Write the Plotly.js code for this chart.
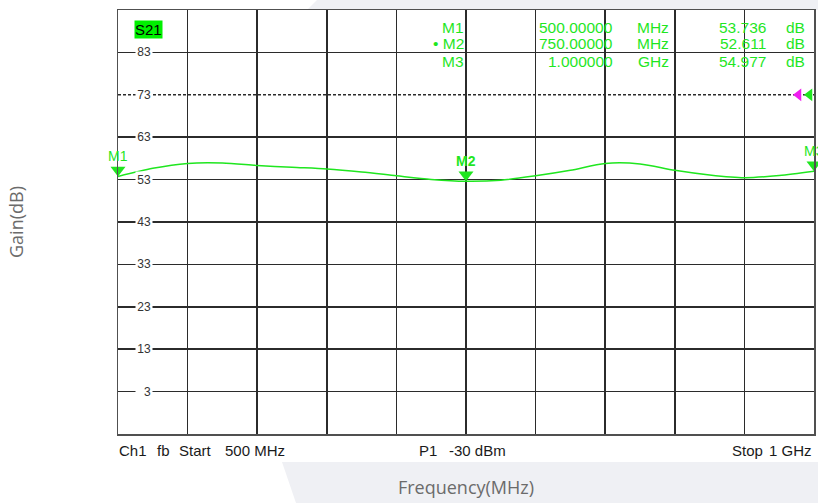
<!DOCTYPE html>
<html>
<head>
<meta charset="utf-8">
<script src="https://cdn.plot.ly/plotly-3.0.1.min.js"></script>
<style>html,body{margin:0;padding:0;background:#fff;}#chart{width:818px;height:503px;}</style>
</head>
<body>
<div id="chart"></div>
<script>
// ---- data ----
const freqMHz = [500, 525, 550, 575, 600, 625, 650, 675, 700, 725, 750, 775, 800, 825, 850, 875, 900, 925, 950, 975, 1000];
const gainDB  = [53.74, 55.65, 56.8, 56.9, 56.35, 55.9, 55.5, 54.8, 53.9, 53.05, 52.61, 52.86, 53.9, 55.2, 56.8, 56.7, 55.2, 54.1, 53.45, 53.95, 54.98];

const markerNames     = ['M1', 'M2', 'M3'];
const markerFreqMHz   = [500, 750, 1000];
const markerGainDB    = [53.736, 52.611, 54.977];
const markerFreqText  = ['500.00000', '750.00000', '1.000000'];
const markerFreqUnit  = ['MHz', 'MHz', 'GHz'];
const markerGainText  = ['53.736', '52.611', '54.977'];
const activeMarker    = 1;

const yTickVals  = [3, 13, 23, 33, 43, 53, 63, 73, 83];
const xGridVals  = [550, 600, 650, 700, 750, 800, 850, 900, 950];
const refLevelDB = 73;
const xStart = 500, xStop = 1000, yBottom = -7, yTop = 93;

const traceName   = 'S21';
const statusWords = ['Ch1', 'fb', 'Start', '500 MHz', 'P1', '-30 dBm', 'Stop', '1 GHz'];
const xTitle = 'Frequency(MHz)';
const yTitle = 'Gain(dB)';

// ---- styling ----
const W = 818, H = 503;
const M = {l: 118, r: 4, t: 10, b: 69};
const GREEN = '#1fe61f';
const MAGENTA = '#f01cf0';
const GRID = '#2b2b2b';
const ARIAL = 'Liberation Sans, Arial, sans-serif';
const TITLEFONT = 'Open Sans, Noto Sans, sans-serif';
const px2x = px => (px - M.l) / (W - M.l - M.r);
const py2y = py => (H - M.b - py) / (H - M.t - M.b);

const traces = [
  {
    x: freqMHz, y: gainDB, type: 'scatter', mode: 'lines',
    line: {color: GREEN, width: 1.5, shape: 'spline', smoothing: 0.8},
    hoverinfo: 'skip'
  },
  {
    x: markerFreqMHz, y: markerGainDB, type: 'scatter', mode: 'markers',
    marker: {symbol: 'triangle-up', angle: 180, standoff: 6.5, size: 13, color: GREEN, line: {width: 0}},
    cliponaxis: false, hoverinfo: 'skip'
  },
  {
    x: [xStop, xStop], y: [refLevelDB, refLevelDB], type: 'scatter', mode: 'markers',
    marker: {symbol: 'triangle-down', angle: 90, standoff: [15.5, 4.5], size: 11, color: [MAGENTA, GREEN], line: {width: 0}},
    cliponaxis: false, hoverinfo: 'skip'
  }
];

const annotations = [];
// y tick labels sitting inside the grid on white
yTickVals.forEach(v => annotations.push({
  xref: 'paper', yref: 'y', x: px2x(144), y: v, text: String(v), showarrow: false,
  xanchor: 'center', yanchor: 'middle', width: 14, align: 'right', borderpad: 1,
  bgcolor: '#ffffff', font: {family: ARIAL, size: 12, color: '#333'}
}));
// marker labels above triangles
markerNames.forEach((n, i) => annotations.push({
  xref: 'x', yref: 'y', x: markerFreqMHz[i], y: markerGainDB[i],
  text: i === activeMarker ? '<b>' + n + '</b>' : n, showarrow: false,
  xanchor: 'center', yanchor: 'bottom', yshift: 11, borderpad: 0,
  font: {family: ARIAL, size: 14, color: GREEN}
}));
// marker table
const rowY = [27, 43.8, 61.3];
markerNames.forEach((n, i) => {
  const cells = [
    [(i === activeMarker ? '• ' : '') + n, 465],
    [markerFreqText[i], 613.5],
    [markerFreqUnit[i], 670],
    [markerGainText[i], 767],
    ['dB', 806]
  ];
  cells.forEach(c => annotations.push({
    xref: 'paper', yref: 'paper', x: px2x(c[1]), y: py2y(rowY[i]), text: c[0], showarrow: false,
    xanchor: 'right', yanchor: 'middle', borderpad: 0,
    font: {family: ARIAL, size: 15.5, color: GREEN}
  }));
});
// trace name box
annotations.push({
  xref: 'paper', yref: 'paper', x: px2x(148), y: py2y(29.7), text: traceName, showarrow: false,
  xanchor: 'center', yanchor: 'middle', bgcolor: '#00f000', borderpad: 0,
  font: {family: ARIAL, size: 15, color: '#000'}
});
// status line (word positions in px)
const statusPos = [[118, 'left'], [156, 'left'], [178, 'left'], [224, 'left'], [418, 'left'], [448, 'left'], [764, 'right'], [813, 'right']];
statusWords.forEach((w, i) => annotations.push({
  xref: 'paper', yref: 'paper', x: px2x(statusPos[i][0]), y: py2y(450.8), text: w, showarrow: false,
  xanchor: statusPos[i][1], yanchor: 'middle', borderpad: 0,
  font: {family: ARIAL, size: 15, color: '#1a1a1a'}
}));

const shapes = [
  // slide background decoration
  {type: 'path', xref: 'paper', yref: 'paper', layer: 'below', line: {width: 0}, fillcolor: '#eff0f4',
   path: `M ${px2x(317)},${py2y(0)} L ${px2x(818)},${py2y(0)} L ${px2x(818)},${py2y(10)} L ${px2x(307)},${py2y(10)} Z`},
  {type: 'path', xref: 'paper', yref: 'paper', layer: 'below', line: {width: 0}, fillcolor: '#eff0f4',
   path: `M ${px2x(282)},${py2y(462)} L ${px2x(818)},${py2y(462)} L ${px2x(818)},${py2y(503)} L ${px2x(296)},${py2y(503)} Z`},
  // reference level (dashed)
  {type: 'line', xref: 'x', yref: 'y', x0: xStart, x1: xStop, y0: refLevelDB, y1: refLevelDB, layer: 'below',
   line: {color: '#2a2a2a', width: 1.5, dash: '3px,2px'}}
];

const layout = {
  width: W, height: H, margin: M,
  paper_bgcolor: '#ffffff', plot_bgcolor: '#ffffff',
  showlegend: false,
  xaxis: {
    range: [xStart, xStop], tickvals: xGridVals, showticklabels: false, ticks: '',
    showgrid: true, gridcolor: GRID, gridwidth: 1.5, zeroline: false,
    showline: true, mirror: true, linecolor: '#505050', linewidth: 1.5,
    title: {text: xTitle, font: {family: TITLEFONT, size: 18, color: '#6b6b6b'}, standoff: 47}
  },
  yaxis: {
    range: [yBottom, yTop], tickvals: yTickVals.filter(v => v !== refLevelDB), showticklabels: false, ticks: '',
    showgrid: true, gridcolor: GRID, gridwidth: 1.5, zeroline: false,
    showline: true, mirror: true, linecolor: '#505050', linewidth: 1.5,
    title: {text: yTitle, font: {family: TITLEFONT, size: 18, color: '#6b6b6b'}, standoff: 88}
  },
  annotations: annotations,
  shapes: shapes
};

Plotly.newPlot('chart', traces, layout, {staticPlot: true, displayModeBar: false});
</script>
</body>
</html>
